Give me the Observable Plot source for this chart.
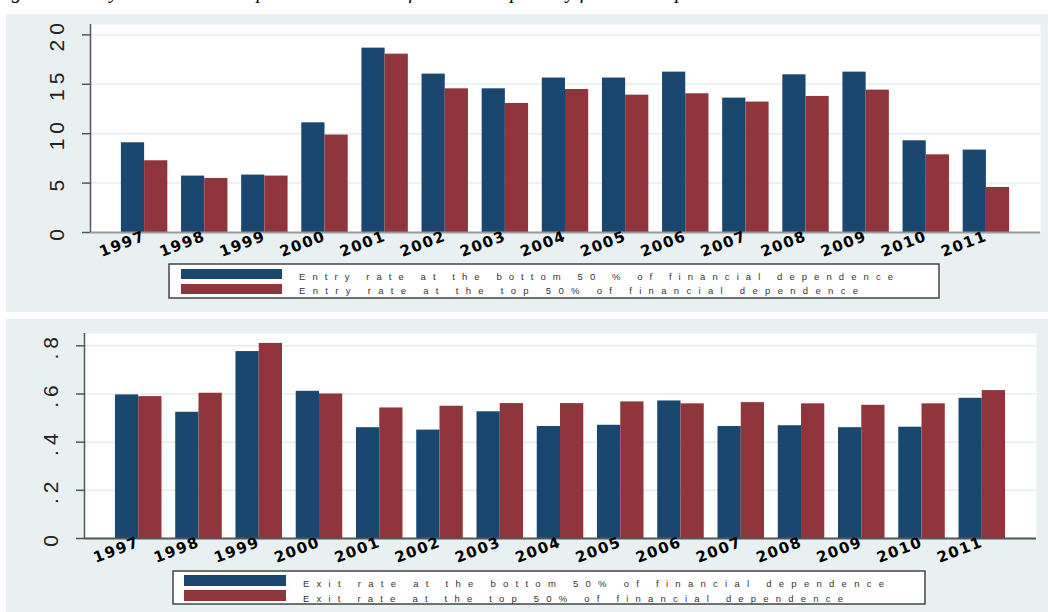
<!DOCTYPE html>
<html><head><meta charset="utf-8">
<script src="https://cdn.jsdelivr.net/npm/d3@7"></script>
<script src="https://cdn.jsdelivr.net/npm/@observablehq/plot@0.6"></script>
<style>
body{margin:0;background:#fff;width:1048px;height:612px;overflow:hidden;position:relative;font-family:"Liberation Sans",Arial,sans-serif}
.panel{position:absolute;background:#e8f0f2}
.abs{position:absolute;left:0}
.title{position:absolute;left:-6px;top:-20px;font:italic 20px "Liberation Serif",serif;white-space:nowrap;color:#000}
svg [aria-label="x-axis tick label"] text{font-weight:bold;letter-spacing:1.5px}
svg [aria-label="y-axis tick label"] text{letter-spacing:5px}
#leg{position:absolute;left:0;top:0}
</style></head><body>
<div class="title">Figure 5: Entry rate into total exports and exit rate from total exports by financial dependence</div>
<div class="panel" style="left:6px;top:14px;width:1042px;height:298px"></div>
<div class="panel" style="left:6px;top:319px;width:1042px;height:293px"></div>
<div id="top" class="abs" style="top:0"></div>
<div id="bot" class="abs" style="top:319px"></div>
<svg id="leg" width="1048" height="612"></svg>
<script>
const years = [1997,1998,1999,2000,2001,2002,2003,2004,2005,2006,2007,2008,2009,2010,2011];
const entryBottom = [9.08,5.71,5.81,11.1,18.66,16.03,14.54,15.63,15.63,16.23,13.6,15.96,16.23,9.28,8.34];
const entryTop    = [7.26,5.47,5.71,9.86,18.05,14.54,13.06,14.47,13.9,14.04,13.2,13.77,14.41,7.86,4.56];
const exitBottom  = [0.596,0.524,0.776,0.611,0.460,0.450,0.526,0.465,0.470,0.571,0.465,0.468,0.460,0.462,0.582];
const exitTop     = [0.589,0.603,0.810,0.600,0.542,0.549,0.560,0.560,0.567,0.559,0.564,0.559,0.553,0.559,0.614];
const entryTicks = [0,5,10,15,20];
const exitTicks = [0,0.2,0.4,0.6,0.8];
const entryLabels = ["Entry rate at the bottom 50 % of financial dependence","Entry rate at the top 50% of financial dependence"];
const exitLabels = ["Exit rate at the bottom 50% of financial dependence","Exit rate at the top 50% of financial dependence"];
const colors = ["#1a476f","#90353b"];

const half = 0.386;
const xDomain = [1996.1, 2011.9];

function rows(vals){ return years.map((y,i)=>({year:y, value:vals[i]})); }

function panel({bottom, top, ticks, yMax, fmt, height, mt, mb, ml, mr, baseColor}){
  return Plot.plot({
    width: 1048, height, marginTop: mt, marginBottom: mb, marginLeft: ml, marginRight: mr,
    style: {background: "transparent", fontFamily: "Liberation Sans, Arial, sans-serif", overflow: "visible"},
    x: {type: "linear", domain: xDomain},
    y: {domain: [0, yMax]},
    marks: [
      Plot.frame({fill: "white", stroke: null}),
      Plot.gridY(ticks, {stroke: "#e4edf0", strokeOpacity: 1, strokeWidth: 1.5}),
      Plot.rect(rows(bottom), {x1: d => d.year - half, x2: d => d.year, y1: 0, y2: "value", fill: colors[0]}),
      Plot.rect(rows(top), {x1: d => d.year, x2: d => d.year + half, y1: 0, y2: "value", fill: colors[1]}),
      Plot.ruleY([0], {stroke: baseColor, strokeWidth: 2}),
      Plot.ruleX([xDomain[0]], {stroke: "#555", strokeWidth: 1.5}),
      Plot.axisY({ticks, tickFormat: fmt, tickSize: 8, tickPadding: 19, tickRotate: -90, fontSize: 21, stroke: "#555", strokeWidth: 1.5, fill: "#222", label: null}),
      Plot.axisX({ticks: years, tickFormat: d => String(d), tickSize: 0, tickPadding: 3, tickRotate: -21, fontSize: 15, fontFamily: "DejaVu Sans", fill: "#000", label: null})
    ]
  });
}

document.getElementById("top").append(panel({
  bottom: entryBottom, top: entryTop, ticks: entryTicks, yMax: 21.05, fmt: d => String(d),
  height: 312, mt: 24, mb: 80, ml: 90, mr: 8, baseColor: "#9a9a9a"
}));
document.getElementById("bot").append(panel({
  bottom: exitBottom, top: exitTop, ticks: exitTicks, yMax: 0.851,
  fmt: d => d === 0 ? "0" : String(d).replace(/^0/, ""),
  height: 293, mt: 14, mb: 74, ml: 84, mr: 12, baseColor: "#555"
}));

// legends
const leg = d3.select("#leg");
function legend(box, swX, swW, rowsY, swH, textX, baselines, ends, labels){
  leg.append("rect").attr("x", box[0]).attr("y", box[1]).attr("width", box[2]-box[0]).attr("height", box[3]-box[1])
    .attr("fill", "white").attr("stroke", "#444").attr("stroke-width", 1.5);
  labels.forEach((lab, i) => {
    leg.append("rect").attr("x", swX).attr("y", rowsY[i]).attr("width", swW).attr("height", swH).attr("fill", colors[i]);
    leg.append("text").attr("x", textX).attr("y", baselines[i]).attr("font-size", 9.5)
      .attr("font-family", "Liberation Sans, Arial, sans-serif").attr("fill", "#333")
      .attr("textLength", ends[i]-textX).attr("lengthAdjust", "spacing").text(lab);
  });
}
legend([169,264,939,298], 181, 101, [269,284], 10, 299, [280,294], [893,858], entryLabels);
legend([173,571,925,604], 184, 102, [575,590], 11, 303, [587,601.5], [884,843], exitLabels);
</script>
</body></html>
